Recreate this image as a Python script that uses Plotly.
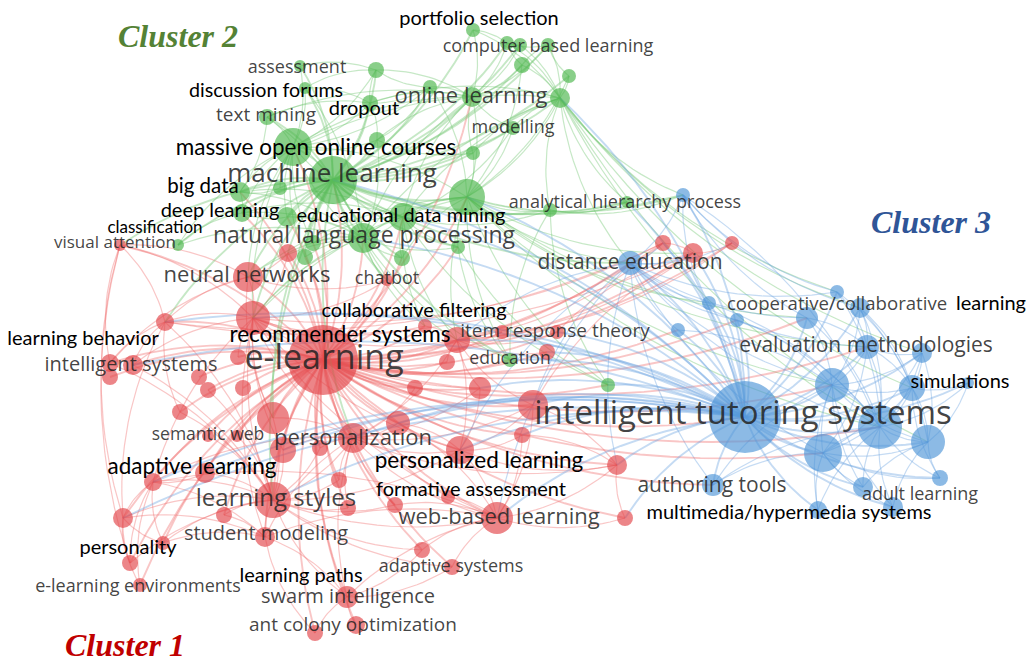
import numpy as np
import plotly.graph_objects as go

# ---------------- nodes (map coordinates) ----------------
NODE_ID = [
    # cluster 2 (green)
    "port", "cb1", "cb2", "cb3", "cb4", "cb5", "ol2", "ol", "ol3", "as1", "as2", "disc", "tm", "drop",
    "mod", "gm1", "mooc", "mooc2", "ml", "gm3", "bd", "bd2", "dl", "dl2", "edm", "nlp", "va2", "gn2",
    "gn3", "gn4", "gn5", "ahp1", "ahp2", "edu", "g_its",
    # cluster 1 (red)
    "va", "rr1", "nn", "chat", "lb", "rec", "el", "cf", "irt", "irt2", "irt3", "irt4", "red", "is1",
    "is2", "is3", "c1", "c2", "c3", "c4", "c6", "c7", "c8", "c9", "c10", "c11", "c12", "pl", "pers",
    "c13", "c14", "sw1", "sw2", "al", "al2", "c15", "ls", "c16", "c17", "c18", "wbl", "c19", "c20",
    "sm", "pty", "c21", "ele", "c22", "as", "swi", "aco1", "aco2", "fa", "wb2", "de1", "de2", "de3",
    # cluster 3 (blue)
    "bahp", "bde", "b1", "b2", "b3", "b4", "b5", "b6", "b7", "b8", "b9", "b10", "bsim", "bits", "b11",
    "b12", "b13", "bat", "b14", "b15", "b16", "b17",
]
NODE_X = [
    473, 507, 520, 548, 522, 569, 560, 472, 430, 300, 376, 305, 267, 370,
    513, 473, 293, 377, 333, 467, 240, 280, 242, 287, 403, 363, 178, 458,
    402, 305, 313, 550, 627, 510, 608,
    120, 288, 248, 387, 165, 253, 323, 425, 457, 502, 557, 547, 447, 110,
    133, 110, 238, 199, 208, 243, 180, 273, 415, 480, 398, 533, 522, 460, 353,
    320, 283, 208, 237, 153, 205, 339, 273, 348, 395, 448, 497, 123, 224,
    265, 163, 130, 140, 422, 452, 347, 315, 356, 617, 625, 663, 693, 732,
    683, 630, 709, 837, 737, 807, 860, 678, 867, 922, 832, 912, 968, 745, 880,
    928, 823, 713, 863, 940, 893, 818,
]
NODE_Y = [
    30, 43, 45, 45, 65, 76, 98, 97, 87, 66, 70, 88, 117, 103,
    128, 153, 147, 140, 180, 197, 192, 188, 213, 217, 217, 238, 245, 247,
    258, 257, 243, 210, 202, 360, 385,
    245, 253, 277, 280, 322, 318, 360, 326, 340, 332, 332, 352, 362, 363,
    365, 377, 357, 377, 390, 388, 412, 418, 388, 388, 423, 405, 435, 450, 438,
    448, 450, 436, 436, 482, 473, 480, 500, 508, 505, 497, 518, 518, 515,
    537, 543, 563, 585, 550, 567, 597, 633, 625, 465, 518, 243, 253, 243,
    195, 263, 303, 292, 320, 318, 308, 330, 347, 353, 385, 388, 383, 417, 427,
    442, 453, 485, 487, 478, 507, 510,
]
NODE_R = [
    7, 7, 7, 7, 8, 7, 10, 10, 7, 6, 8, 6, 8, 8,
    7, 7, 19, 8, 24, 18, 10, 7, 9, 10, 14, 15, 6, 7,
    8, 8, 8, 7, 6, 7, 7,
    6, 9, 15, 6, 9, 17, 35, 7, 13, 7, 7, 8, 8, 9,
    10, 8, 8, 8, 8, 8, 8, 16, 8, 11, 12, 15, 8, 14, 15,
    8, 13, 6, 6, 9, 10, 8, 18, 8, 8, 7, 16, 10, 8,
    10, 7, 8, 7, 8, 8, 11, 8, 9, 10, 8, 8, 10, 7,
    7, 12, 7, 7, 7, 11, 10, 7, 12, 10, 17, 13, 6, 36, 22,
    17, 19, 11, 10, 8, 10, 9,
]
NODE_CLUSTER = [2] * 35 + [1] * 57 + [3] * 22

# ---------------- links (source -> targets) ----------------
LINKS = {
    "el": "rr1 nn chat lb rec cf irt irt2 irt3 irt4 red is1 is2 is3 c1 c2 c3 c4 c6 c7 c8 c9 c10 c11 c12 pl pers "
          "c13 c14 sw1 sw2 al al2 c15 ls c16 c17 c18 wbl c19 c20 sm pty c21 ele c22 as swi aco1 aco2 fa wb2 de1 "
          "de2 de3 va ml nlp edm mooc gm3 dl2 gn4 gn5 gn3 gn2 edu g_its ol dl bd bits bde b9 b11 b13 bat b7 b3 b6 b4",
    "bits": "bde b1 b2 b3 b4 b5 b6 b7 b8 b9 b10 bsim b11 b12 b13 bat b14 b15 b16 b17 bahp irt c11 c12 pl c9 fa "
            "wb2 wbl pers ls c10 rec al is2 c14 de2 de1 irt3 irt4 g_its edu gm3 ol2 ahp2 ml edm nlp lb c19 al2",
    "ml": "port cb1 cb2 cb3 cb4 cb5 ol2 ol ol3 as1 as2 disc tm drop mod gm1 mooc mooc2 gm3 bd bd2 dl dl2 edm nlp "
          "va2 gn2 gn3 gn4 gn5 ahp1 ahp2 edu nn rec rr1 chat c7 pers ls lb va bde bahp",
    "gm3": "ol ol2 ol3 cb4 cb5 mod gm1 mooc edm nlp gn2 gn3 ahp1 ahp2 bde bahp b1 b4 b7 b9 b11 edu g_its irt rec nn de2",
    "ol2": "ol cb1 cb2 cb3 cb4 cb5 port mod gm1 ahp1 ahp2 bde bahp b2 b5 b8 b10 b12 edm nlp mooc drop b11",
    "ol": "ol3 cb1 cb2 cb3 cb4 port mod gm1 as2 drop mooc edm nlp mooc2 tm",
    "mooc": "as1 as2 disc tm drop bd bd2 dl dl2 edm nlp mooc2 ol3 gn4 gn5 nn rec va2",
    "nlp": "edm bd dl dl2 gn2 gn3 gn4 gn5 chat rec nn rr1 cf irt va2 tm disc mooc2 edu",
    "edm": "gn2 gn3 gn5 dl bd rec irt cf mod ahp1 g_its",
    "cb1": "cb2 cb3 port cb4",
    "cb3": "cb5 cb4",
    "as2": "drop as1 disc ol3",
    "drop": "disc tm ol3",
    "mooc2": "ol3 drop gm1",
    "dl": "bd va2 dl2",
    "bd": "bd2 tm",
    "ahp1": "ahp2 bahp g_its edu",
    "gn2": "edu g_its",
    "bde": "b1 b3 b6 b2 b4 bahp de1 de2 de3 irt c11 fa wbl pl b9 b11 b13 bat b7",
    "b11": "b1 b2 b3 b4 b5 b7 b8 b9 b10 bsim b12 b13 b14 b15 b16 b17 bat bahp",
    "b9": "b4 b5 b7 b8 b10 b12 b13 b14 b16 b17 bat b3 b6",
    "b13": "b10 b12 b14 b15 b16 b17 bat b7 b8",
    "b12": "b8 b10 bsim b14 b15 b16 b5",
    "b10": "b7 b8 bsim b15 b5 b2",
    "b7": "b4 b5 b8 b2",
    "bahp": "b2 b5 b4 b1",
    "rec": "nn rr1 chat cf irt lb is2 c1 c7 pers ls c14 sm va al wbl pl c9 de1",
    "ls": "al al2 c6 c7 c14 c13 c15 c16 c17 sm c20 c19 pty c21 pers wbl pl swi c22 as is1 is2 lb sw1 sw2 c3",
    "pers": "c7 c8 c10 c13 c14 c15 c16 c17 pl wbl c9 irt c11 fa al sm swi",
    "wbl": "pl c17 c18 c22 as c10 c11 c12 fa wb2 swi sm al",
    "pl": "c10 c11 c12 c9 irt fa",
    "irt": "irt2 irt3 irt4 red cf c9 de1 de2 de3 c11",
    "nn": "rr1 va lb is1 c7 chat",
    "lb": "va is1 is2 c6 c19 de1 de2",
    "va": "c19 is1 c21",
    "swi": "aco1 aco2 sm as c22",
    "sm": "aco1 al c19 pty c20",
    "al": "c19 pty c21 ele al2",
    "c19": "pty ele c21",
    "de2": "de1 de3 c11 irt3",
    "fa": "c11 wb2 c12",
}
HUBS = ["el", "bits", "ml"]

# ---------------- labels ----------------
GRAY_TEXT = ["intelligent tutoring systems", "e-learning", "machine learning", "natural language processing",
             "neural networks", "online learning", "distance education", "evaluation methodologies",
             "cooperative/collaborative", "learning styles", "personalization", "web-based learning",
             "authoring tools", "intelligent systems", "item response theory", "student modeling",
             "swarm intelligence", "ant colony optimization", "adult learning", "adaptive systems",
             "e-learning environments", "semantic web", "education", "chatbot", "computer based learning",
             "assessment", "text mining", "modelling", "visual attention", "analytical hierarchy process"]
GRAY_X = [743, 324, 332, 364, 247, 471, 630, 866, 837, 276, 353, 499, 712, 131, 555, 266, 348, 353, 920, 451,
          138, 208, 510, 387, 548, 297, 266, 513, 115, 625]
GRAY_Y = [416, 360, 175, 237, 276, 97, 264, 347, 305, 500, 439, 518, 487, 366, 332, 535, 598, 626, 495, 567,
          587, 436, 360, 279, 47, 68, 116, 128, 244, 203]
GRAY_SIZE = [33, 34, 26, 23, 22, 22, 21, 21, 18.6, 24, 22, 22, 21, 20, 19, 20, 20, 19, 18, 18,
             18, 17.5, 17.5, 18, 18, 18, 19, 18, 17, 18]

BLACK_TEXT = ["portfolio selection", "discussion forums", "dropout", "massive open online courses", "big data",
              "deep learning", "classification", "educational data mining", "collaborative filtering",
              "recommender systems", "learning behavior", "adaptive learning", "personalized learning",
              "formative assessment", "personality", "learning paths", "multimedia/hypermedia systems",
              "simulations", "learning"]
BLACK_X = [479, 266, 364, 316, 203, 220, 155, 401, 414, 340, 83, 192, 479, 471, 128, 301, 789, 960, 991]
BLACK_Y = [20, 92, 110, 149, 188, 212, 229, 217, 312, 336, 340, 468, 462, 491, 549, 577, 514, 383, 305]
BLACK_SIZE = [20, 19.7, 20, 22.5, 20.5, 20, 17, 20, 20, 22.5, 20, 22.5, 22.5, 20, 20, 20, 20, 20, 20]

CLUSTER_TITLES = ["Cluster 2", "Cluster 3", "Cluster 1"]
CLUSTER_TITLE_X = [178, 931, 125]
CLUSTER_TITLE_Y = [36, 222, 645]
CLUSTER_TITLE_COLOR = ["#548235", "#2f5597", "#c00000"]

# ---------------- styles ----------------
NODE_COLOR = {1: "rgba(226,66,70,0.92)", 2: "rgba(72,180,72,0.92)", 3: "rgba(76,148,214,0.92)"}
LINK_COLOR = {1: "rgba(238,105,105,0.38)", 2: "rgba(120,200,120,0.42)", 3: "rgba(110,165,225,0.40)"}

idx = {n: i for i, n in enumerate(NODE_ID)}

fig = go.Figure()

# curved links (quadratic Bezier between node centres)
t = np.linspace(0, 1, 18)
for hub_group, width in ((False, 1.2), (True, 1.9)):
    for cl in (1, 2, 3):
        xs, ys = [], []
        for src, tgts in LINKS.items():
            a = idx[src]
            if NODE_CLUSTER[a] != cl or (src in HUBS) != hub_group:
                continue
            for tg in tgts.split():
                b = idx[tg]
                x0, y0, x1, y1 = NODE_X[a], NODE_Y[a], NODE_X[b], NODE_Y[b]
                mx, my = (x0 + x1) / 2, (y0 + y1) / 2
                cx, cy = mx - 0.15 * (y1 - y0), my + 0.15 * (x1 - x0)
                bx = (1 - t) ** 2 * x0 + 2 * (1 - t) * t * cx + t ** 2 * x1
                by = (1 - t) ** 2 * y0 + 2 * (1 - t) * t * cy + t ** 2 * y1
                xs += list(bx) + [None]
                ys += list(by) + [None]
        fig.add_trace(go.Scatter(x=xs, y=ys, mode="lines", hoverinfo="skip",
                                 line=dict(color=LINK_COLOR[cl], width=width), showlegend=False))

# nodes, largest first so small ones stay visible
order = sorted(range(len(NODE_ID)), key=lambda i: -NODE_R[i])
fig.add_trace(go.Scatter(
    x=[NODE_X[i] for i in order], y=[NODE_Y[i] for i in order], mode="markers",
    marker=dict(size=[2 * NODE_R[i] for i in order],
                color=[NODE_COLOR[NODE_CLUSTER[i]] for i in order], line=dict(width=0)),
    text=[NODE_ID[i] for i in order], hoverinfo="text", showlegend=False, cliponaxis=False))

# labels
fig.add_trace(go.Scatter(x=GRAY_X, y=GRAY_Y, mode="text", text=GRAY_TEXT, textposition="middle center",
                         textfont=dict(family="Open Sans", size=GRAY_SIZE, color="rgba(35,35,35,0.85)"),
                         hoverinfo="skip", showlegend=False, cliponaxis=False))
fig.add_trace(go.Scatter(x=BLACK_X, y=BLACK_Y, mode="text", text=BLACK_TEXT, textposition="middle center",
                         textfont=dict(family="Lato", size=BLACK_SIZE, color="#000000"),
                         hoverinfo="skip", showlegend=False, cliponaxis=False))

for txt, x, y, c in zip(CLUSTER_TITLES, CLUSTER_TITLE_X, CLUSTER_TITLE_Y, CLUSTER_TITLE_COLOR):
    fig.add_annotation(x=x, y=y, text=f"<b><i>{txt}</i></b>", showarrow=False,
                       font=dict(family="Liberation Serif", size=32, color=c))

fig.update_layout(width=1030, height=664, margin=dict(l=0, r=0, t=0, b=0),
                  paper_bgcolor="white", plot_bgcolor="white",
                  xaxis=dict(range=[0, 1030], visible=False, fixedrange=True),
                  yaxis=dict(range=[664, 0], visible=False, fixedrange=True))

fig.write_html("out.html", config={"displayModeBar": False},
               post_script="document.body.style.margin='0';document.body.style.overflow='hidden';")
